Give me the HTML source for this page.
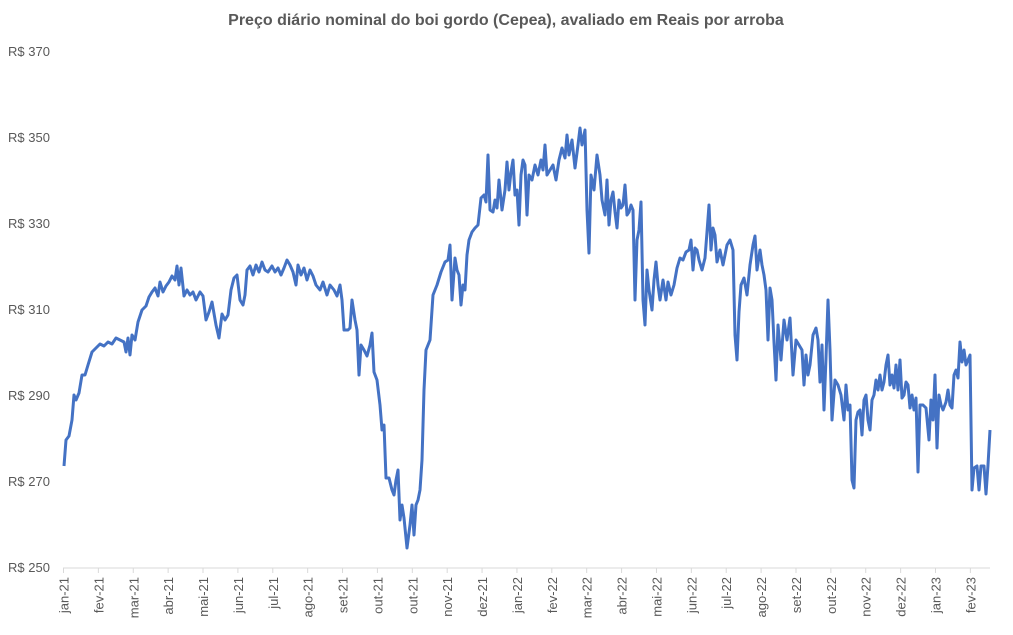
<!DOCTYPE html>
<html><head><meta charset="utf-8"><style>
body{margin:0;background:#fff;width:1013px;height:630px;overflow:hidden;font-family:"Liberation Sans",sans-serif;}
</style></head><body>
<svg width="1013" height="630" xmlns="http://www.w3.org/2000/svg" font-family="Liberation Sans, sans-serif">
<text x="506" y="25" text-anchor="middle" font-size="16" font-weight="bold" fill="#595959">Preço diário nominal do boi gordo (Cepea), avaliado em Reais por arroba</text>
<g font-size="13" fill="#595959">
<text x="8" y="572">R$ 250</text>
<text x="8" y="486">R$ 270</text>
<text x="8" y="400">R$ 290</text>
<text x="8" y="314">R$ 310</text>
<text x="8" y="228">R$ 330</text>
<text x="8" y="142">R$ 350</text>
<text x="8" y="56">R$ 370</text>
</g>
<line x1="63" y1="568" x2="990" y2="568" stroke="#d9d9d9" stroke-width="1"/>
<g id="ticks" stroke="#d9d9d9" stroke-width="1"></g>
<g id="labs" font-size="13" fill="#595959"></g>
<polyline fill="none" stroke="#4472c4" stroke-width="3" stroke-linejoin="round" points="64,466 66,440 69,436 72,420 74,395 76,400 79,393 82,375 85,375 88,365 92,352 96,348 100,344 104,346 108,342 112,344 116,338 120,340 124,342 126,352 128,338 130,355 132,335 135,340 138,322 142,310 146,306 149,297 152,292 155,288 158,296 160,282 163,292 166,286 169,282 172,276 175,280 177,266 179,285 181,268 184,296 187,290 190,295 193,292 196,300 200,292 203,296 206,320 209,312 212,302 216,325 219,338 222,314 225,320 228,315 231,290 234,278 237,275 240,300 243,305 245,295 247,270 250,266 253,275 256,265 259,272 262,262 265,270 268,272 272,266 275,272 278,268 281,275 284,268 287,260 290,265 293,272 296,285 298,265 301,275 304,268 307,280 310,270 313,276 316,285 320,290 323,282 327,295 330,285 334,290 337,296 340,285 342,300 344,330 348,330 350,328 352,300 355,320 357,330 359,375 361,345 364,350 367,356 370,345 372,333 374,372 377,380 380,405 382,430 384,425 386,478 389,478 392,490 394,495 396,480 398,470 400,520 402,505 404,518 407,548 410,525 412,505 414,535 416,505 418,500 420,490 422,460 424,390 426,350 430,340 433,295 437,285 441,272 445,262 448,260 450,245 452,300 455,258 457,270 459,275 461,305 463,285 465,290 467,255 469,240 472,232 475,228 478,225 481,198 484,195 486,202 488,155 490,210 493,212 495,200 497,208 499,180 502,210 505,190 507,162 509,190 511,172 513,160 515,195 517,190 519,225 521,175 523,160 525,165 527,215 529,175 532,180 535,165 538,175 541,160 543,170 545,145 547,175 550,170 553,165 556,180 559,160 562,148 565,158 567,135 569,155 572,140 575,168 578,145 580,128 582,145 585,130 587,210 589,253 591,175 594,190 597,155 600,175 602,200 605,215 607,180 609,225 611,200 613,192 615,212 617,228 619,200 621,208 623,205 625,185 627,215 629,212 631,205 633,210 635,300 637,240 639,230 641,202 643,300 645,325 647,270 649,290 652,310 654,280 656,262 658,285 660,300 663,280 666,300 668,282 671,295 674,285 677,268 680,258 683,260 686,252 689,250 691,240 693,270 695,248 697,250 699,260 702,270 705,258 707,232 709,205 711,250 713,228 715,235 717,262 720,250 723,265 727,245 730,240 733,250 735,335 737,360 739,312 741,285 744,278 747,295 750,265 753,245 755,236 757,270 760,250 762,265 764,275 766,290 768,340 770,288 772,300 774,342 776,380 778,325 781,360 784,320 787,340 790,318 793,375 796,340 799,345 802,350 804,385 806,355 808,375 810,365 813,335 816,328 818,340 820,382 822,345 824,410 826,358 828,300 830,350 832,420 835,380 838,385 841,395 844,420 846,385 848,410 850,405 852,480 854,488 856,420 858,412 860,410 862,435 864,400 866,395 868,420 870,430 872,400 874,395 876,380 878,390 880,375 882,390 884,382 886,365 888,355 890,385 892,375 894,388 896,365 898,390 900,360 902,398 904,395 906,382 908,385 910,408 912,395 914,410 916,398 918,472 920,405 923,405 926,408 929,440 931,400 933,420 935,375 937,448 939,395 941,405 943,410 946,402 948,390 950,405 952,408 954,375 956,370 958,378 960,342 962,362 964,350 966,365 968,360 970,355 972,490 974,468 977,466 979,490 981,466 984,466 986,494 988,465 990,430"/>
</svg>
<script>
var labs=["jan-21","fev-21","mar-21","abr-21","mai-21","jun-21","jul-21","ago-21","set-21","out-21","out-21","nov-21","dez-21","jan-22","fev-22","mar-22","abr-22","mai-22","jun-22","jul-22","ago-22","set-22","out-22","nov-22","dez-22","jan-23","fev-23"];
var ns="http://www.w3.org/2000/svg",t=document.getElementById("ticks"),l=document.getElementById("labs");
for(var i=0;i<labs.length;i++){var x=63.5+i*34.88;
var ln=document.createElementNS(ns,"line");ln.setAttribute("x1",x);ln.setAttribute("x2",x);ln.setAttribute("y1",568);ln.setAttribute("y2",573);t.appendChild(ln);
var tx=document.createElementNS(ns,"text");tx.setAttribute("transform","translate("+(x+5)+",577) rotate(-90)");tx.setAttribute("text-anchor","end");tx.textContent=labs[i];l.appendChild(tx);}
</script>
</body></html>
